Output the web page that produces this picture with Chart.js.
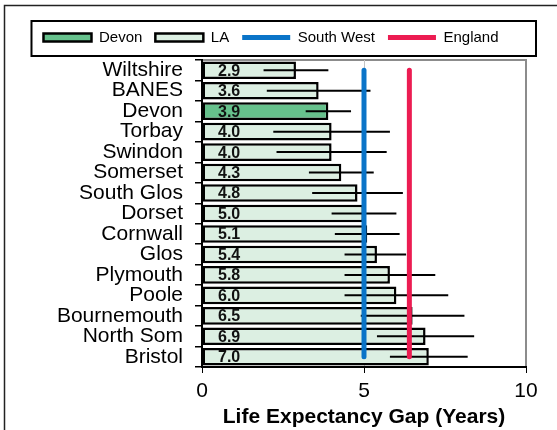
<!DOCTYPE html>
<html>
<head>
<meta charset="utf-8">
<script src="https://cdn.jsdelivr.net/npm/chart.js@4/dist/chart.umd.min.js"></script>
<style>
  html, body { margin: 0; padding: 0; background: #fff; }
  #wrap { width: 557px; height: 430px; }
</style>
</head>
<body>
<div id="wrap"><canvas id="gapChart" width="557" height="430"></canvas></div>
<script>
// Data
const areas = ['Wiltshire', 'BANES', 'Devon', 'Torbay', 'Swindon', 'Somerset', 'South Glos', 'Dorset',
    'Cornwall', 'Glos', 'Plymouth', 'Poole', 'Bournemouth', 'North Som', 'Bristol'];
const gapYears = [2.9, 3.6, 3.9, 4.0, 4.0, 4.3, 4.8, 5.0, 5.1, 5.4, 5.8, 6.0, 6.5, 6.9, 7.0];
const gapLow = [1.9, 2.0, 3.2, 2.2, 2.3, 3.3, 3.4, 4.0, 4.1, 4.4, 4.4, 4.4, 4.9, 5.4, 5.8];
const gapHigh = [3.9, 5.2, 4.6, 5.8, 5.7, 5.3, 6.2, 6.0, 6.1, 6.3, 7.2, 7.6, 8.1, 8.4, 8.2];
const southWestGap = 5.0;
const englandGap = 6.4;
const highlight = 'Devon';
const xTicks = [0, 5, 10];

const devonData = gapYears.map((v, i) => areas[i] === highlight ? v : null);
const laData = gapYears.map((v, i) => areas[i] === highlight ? null : v);

// Error bars + value labels, drawn over the bars but under the SW/England lines
const barExtras = {
    id: 'barExtras',
    afterDatasetDraw(chart, args) {
        if (args.index !== 0) return;
        const ctx = chart.ctx;
        const xs = chart.scales.x;
        const ys = chart.scales.y;
        ctx.save();
        ctx.strokeStyle = '#000';
        ctx.lineWidth = 2;
        areas.forEach((a, i) => {
            const y = ys.getPixelForValue(i);
            ctx.beginPath();
            ctx.moveTo(xs.getPixelForValue(gapLow[i]), y);
            ctx.lineTo(xs.getPixelForValue(gapHigh[i]), y);
            ctx.stroke();
        });
        ctx.fillStyle = '#111';
        ctx.font = 'bold 16px "Liberation Sans", Arial, sans-serif';
        ctx.textBaseline = 'middle';
        ctx.textAlign = 'left';
        areas.forEach((a, i) => {
            ctx.fillText(gapYears[i].toFixed(1), xs.getPixelForValue(0) + 16, ys.getPixelForValue(i) + 1);
        });
        ctx.restore();
    }
};

// Outer frame, plot area frame and legend box
const frames = {
    id: 'frames',
    beforeDraw(chart) {
        const ctx = chart.ctx;
        const area = chart.chartArea;
        ctx.save();
        ctx.strokeStyle = '#222';
        ctx.lineWidth = 1.5;
        ctx.strokeRect(4.5, 5.5, chart.width + 20, chart.height + 20);
        ctx.strokeStyle = '#8c8c8c';
        ctx.lineWidth = 2;
        ctx.strokeRect(area.left, area.top, area.right - area.left, area.bottom - area.top);
        const hb = chart.legend.legendHitBoxes;
        if (hb && hb.length) {
            ctx.strokeStyle = '#000';
            ctx.lineWidth = 2;
            const x0 = Math.min(...hb.map(h => h.left)) - 12;
            const y0 = hb[0].top - 9;
            ctx.strokeRect(x0, y0, area.right + 10 - x0, hb[0].height + 20);
        }
        ctx.restore();
    }
};

const font = '"Liberation Sans", Arial, sans-serif';

new Chart(document.getElementById('gapChart'), {
    type: 'bar',
    data: {
        labels: areas,
        datasets: [
            {
                label: 'Devon',
                data: devonData,
                backgroundColor: '#66c18c',
                borderColor: '#000',
                borderWidth: 2.5,
                borderSkipped: false,
                grouped: false,
                barPercentage: 0.86,
                categoryPercentage: 1,
                order: 2
            },
            {
                label: 'LA',
                data: laData,
                backgroundColor: '#dcefe2',
                borderColor: '#000',
                borderWidth: 2.5,
                borderSkipped: false,
                grouped: false,
                barPercentage: 0.86,
                categoryPercentage: 1,
                order: 2
            },
            {
                type: 'line',
                label: 'South West',
                data: [{ x: southWestGap, y: areas[0] }, { x: southWestGap, y: areas[areas.length - 1] }],
                borderColor: '#0a74c8',
                backgroundColor: '#0a74c8',
                borderWidth: 5,
                borderCapStyle: 'round',
                pointRadius: 0,
                order: 1
            },
            {
                type: 'line',
                label: 'England',
                data: [{ x: englandGap, y: areas[0] }, { x: englandGap, y: areas[areas.length - 1] }],
                borderColor: '#ec1c52',
                backgroundColor: '#ec1c52',
                borderWidth: 5,
                borderCapStyle: 'round',
                pointRadius: 0,
                order: 1
            }
        ]
    },
    options: {
        indexAxis: 'y',
        responsive: false,
        animation: false,
        layout: { padding: { left: 16, right: 31, top: 17, bottom: 0 } },
        plugins: {
            tooltip: { enabled: false },
            title: {
                // spacer between legend and plot
                display: true,
                text: '',
                weight: 500,
                padding: 0,
                font: { size: 5, lineHeight: 1 }
            },
            legend: {
                position: 'top',
                labels: {
                    usePointStyle: true,
                    pointStyleWidth: 48,
                    boxHeight: 8,
                    padding: 13,
                    color: '#000',
                    font: { family: font, size: 15 },
                    sort: (a, b) => a.datasetIndex - b.datasetIndex,
                    generateLabels(chart) {
                        const items = Chart.defaults.plugins.legend.labels.generateLabels(chart);
                        items.forEach(it => {
                            it.pointStyle = chart.data.datasets[it.datasetIndex].type === 'line' ? 'line' : 'rect';
                        });
                        return items;
                    }
                }
            }
        },
        scales: {
            x: {
                type: 'linear',
                min: 0,
                max: 10,
                afterBuildTicks(scale) {
                    scale.ticks = xTicks.map(v => ({ value: v }));
                },
                afterFit(scale) {
                    scale.height = 63;
                },
                grid: {
                    color: c => (c.tick && c.tick.value === 5) ? '#c4c4c4' : 'rgba(0,0,0,0)',
                    tickColor: '#000',
                    tickLength: 6,
                    lineWidth: 1
                },
                border: { color: '#000', width: 2 },
                ticks: {
                    color: '#000',
                    padding: 6,
                    font: { family: font, size: 21 }
                },
                title: {
                    display: true,
                    text: 'Life Expectancy Gap (Years)',
                    color: '#000',
                    padding: { top: 0, bottom: 0 },
                    font: { family: font, size: 21, weight: 'bold' }
                }
            },
            y: {
                afterFit(scale) {
                    scale.width = 186;
                },
                grid: {
                    drawOnChartArea: false,
                    tickColor: '#000',
                    tickLength: 7,
                    lineWidth: 1.5
                },
                border: { color: '#000', width: 2 },
                ticks: {
                    color: '#000',
                    padding: 12,
                    autoSkip: false,
                    font: { family: font, size: 21 }
                }
            }
        }
    },
    plugins: [frames, barExtras]
});
</script>
</body>
</html>
